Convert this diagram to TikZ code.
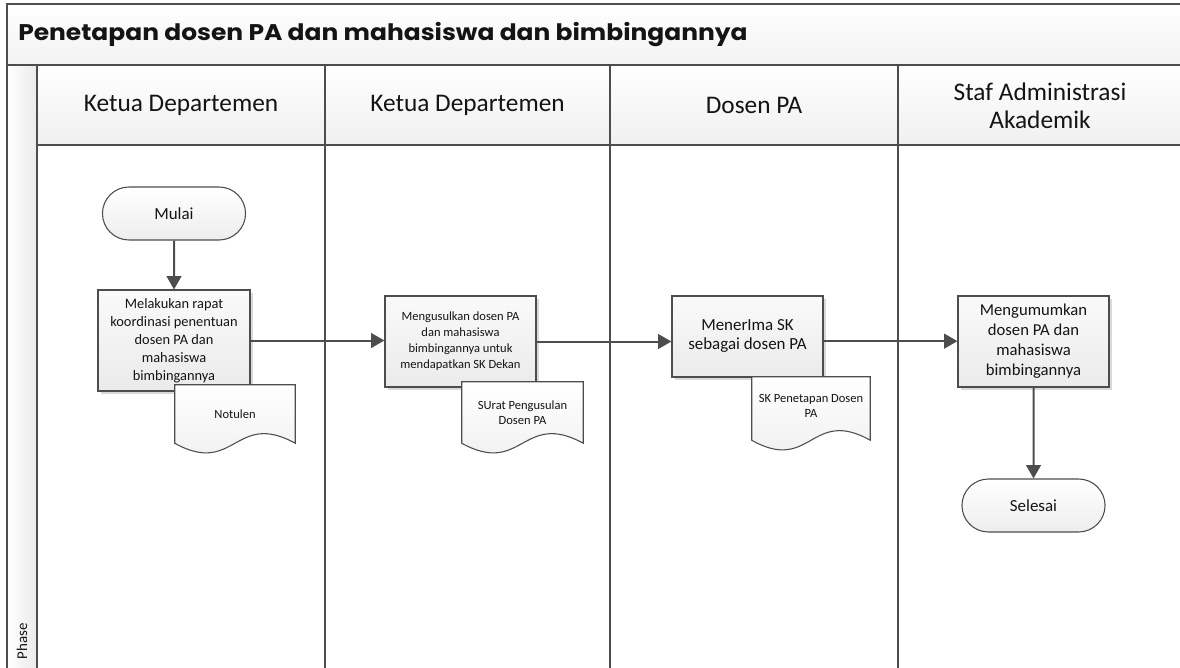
\documentclass[tikz,border=0pt]{standalone}
\usepackage{fontspec}
\setmainfont{Carlito}
\newfontfamily\titlefont{Poppins}
\usetikzlibrary{shapes.misc,shadows,arrows.meta}
\definecolor{lineC}{HTML}{4D4D4D}
\definecolor{txt}{HTML}{141414}
\begin{document}
\begin{tikzpicture}[x=0.75pt,y=-0.75pt,
  frame/.style={draw=lineC,line width=1.5pt},
  proc/.style={draw=lineC,line width=0.8pt,top color=gray!4,bottom color=gray!16,
    drop shadow={shadow xshift=2pt,shadow yshift=-2pt,fill=black,opacity=0.15},
    align=center,inner sep=2pt,text=txt},
  term/.style={rounded rectangle,draw=lineC,line width=0.8pt,top color=white,bottom color=gray!14,
    text=txt,font=\fontsize{12.7}{15}\selectfont,minimum width=114pt,minimum height=39.75pt},
  docnode/.style={align=center,text=txt,font=\fontsize{9.4}{11.7}\selectfont,inner sep=1pt},
  docline/.style={draw=lineC,line width=0.8pt,top color=white,bottom color=gray!14},
  flow/.style={draw=lineC,line width=1.5pt,-{Triangle[length=10pt,width=11pt]}},
  hdr/.style={align=center,text=txt,font=\fontsize{19}{21}\selectfont}
]
\useasboundingbox (0,0) rectangle (1180,667);
\clip (0,0) rectangle (1180,667);
% backgrounds
\shade[top color=white,bottom color=gray!10] (7,4) rectangle (1190,65);
\shade[top color=white,bottom color=gray!12] (37,65) rectangle (1190,145);
\shade[left color=white,right color=gray!16] (7,65) rectangle (37,670);
% frame lines
\draw[frame] (1190,4) -- (7,4) -- (7,670);
\draw[frame] (7,65) -- (1190,65);
\draw[frame] (37,145) -- (1190,145);
\foreach \xx in {37,325,610,898} \draw[frame] (\xx,65) -- (\xx,670);
% title and headers
\node[anchor=west,text=txt,font=\titlefont\bfseries\fontsize{17}{20}\selectfont,inner sep=0pt] (title) at (18,35) {\scalebox{1.1}[1]{Penetapan dosen PA dan mahasiswa dan bimbingannya}};
\node[hdr] (h1) at (181,105) {Ketua Departemen};
\node[hdr] (h2) at (467.5,105) {Ketua Departemen};
\node[hdr] (h3) at (754,105) {Dosen PA};
\node[hdr] (h4) at (1040,106) {Staf Administrasi\\Akademik};
\node[rotate=90,anchor=west,text=txt,font=\fontsize{11.2}{13}\selectfont] (phase) at (22,664) {Phase};
% nodes
\node[term] (mulai) at (174,213.5) {Mulai};
\node[proc,minimum width=114pt,minimum height=75.75pt,font=\fontsize{10.8}{13.5}\selectfont] (b1) at (174,340.5) {Melakukan rapat\\koordinasi penentuan\\dosen PA dan\\mahasiswa\\bimbingannya};
\node[proc,minimum width=113.25pt,minimum height=68.25pt,font=\fontsize{9.4}{12}\selectfont] (b2) at (460.5,341.5) {Mengusulkan dosen PA\\dan mahasiswa\\bimbingannya untuk\\mendapatkan SK Dekan};
\node[proc,minimum width=113.25pt,minimum height=60.75pt,font=\fontsize{12.7}{13.8}\selectfont] (b3) at (747.5,336.5) {\raisebox{-3pt}{\begin{tabular}{@{}c@{}}MenerIma SK\\sebagai dosen PA\end{tabular}}};
\node[proc,minimum width=113.25pt,minimum height=68.25pt,font=\fontsize{12.5}{15}\selectfont] (b4) at (1033.5,341.5) {Mengumumkan\\dosen PA dan\\mahasiswa\\bimbingannya};
\node[term] (selesai) at (1033.5,505.5) {Selesai};
% documents
\node[docnode,minimum width=90pt,minimum height=43.5pt] (d1) at (235,414) {};
\node[docnode,minimum width=90.75pt,minimum height=45.75pt] (d2) at (522.5,412.5) {};
\node[docnode,minimum width=88.5pt,minimum height=47.25pt] (d3) at (811,408.5) {};
\foreach \d in {d1,d2,d3}{
  \draw[docline] (\d.south west) -- (\d.north west) -- (\d.north east) -- (\d.south east)
    .. controls ([yshift=25pt]\d.south) and ([yshift=-25pt]\d.south) .. (\d.south west) -- cycle;
}
\node[docnode] at (d1) {Notulen};
\node[docnode] at (d2) {SUrat Pengusulan\\Dosen PA};
\node[docnode] at ([yshift=2pt]d3) {SK Penetapan Dosen\\PA};
% connectors
\draw[flow] (mulai) -- (b1);
\draw[flow] (b1.east) -- (b1.east -| b2.west);
\draw[flow] (b2.east) -- (b2.east -| b3.west);
\draw[flow] ([yshift=-3.5pt]b3.east) -- ([yshift=-3.5pt]b3.east -| b4.west);
\draw[flow] (b4) -- (selesai);
\end{tikzpicture}
\end{document}
